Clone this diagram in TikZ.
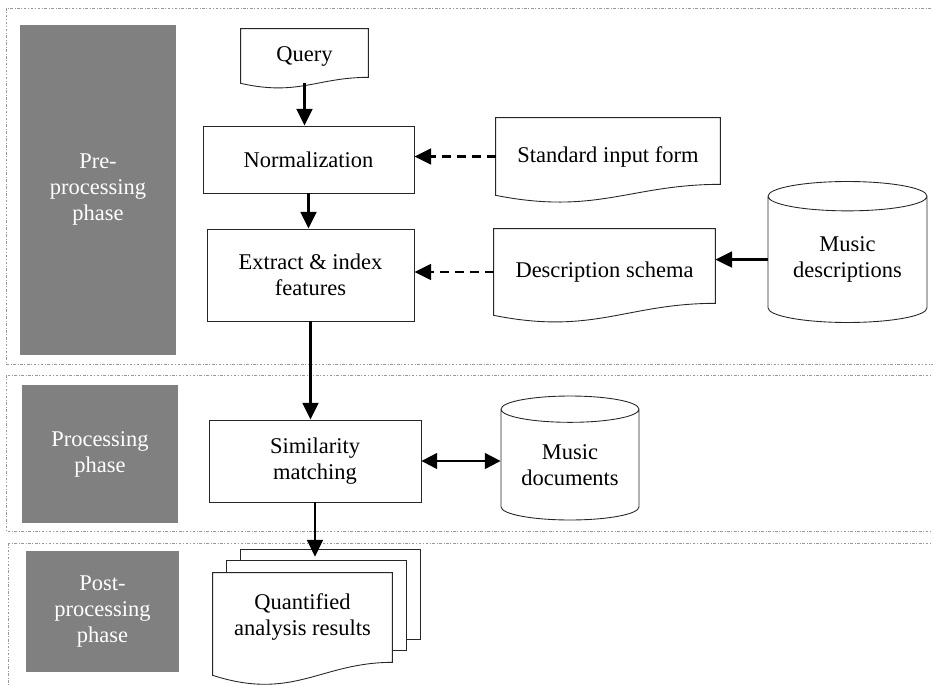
\documentclass[tikz,border=0pt]{standalone}
\usepackage{fontspec}
\setmainfont{Liberation Serif}
\usetikzlibrary{shapes.geometric, arrows.meta, positioning, calc, backgrounds}

% outline of a document sheet with a wavy bottom
\newcommand{\docoutline}[4]{%
  \draw[docline] ($(#1.south west)+(0,#2)$) -- (#1.north west) -- (#1.north east)
    -- ($(#1.south east)+(0,-#3)$)
    .. controls ($(#1.south west)!0.6!(#1.south east)+(0,-#3)$)
       and ($(#1.south west)!0.45!(#1.south east)+(0,#2+#4)$)
    .. ($(#1.south west)+(0,#2)$) -- cycle;}

\begin{document}
\begin{tikzpicture}[
  x=0.02cm, y=-0.02cm,
  every node/.style={font=\fontsize{12.8}{14.8}\selectfont, align=center, inner sep=0pt},
  panel/.style={draw=gray!80, line width=0.5pt, dash pattern=on 1.5pt off 1pt on 0.4pt off 1pt},
  phase/.style={rectangle, fill=black!50, text=white},
  box/.style={rectangle, draw=black!85, line width=0.5pt},
  doc/.style={rectangle},
  docline/.style={draw=black!85, line width=0.5pt, fill=white},
  store/.style={cylinder, shape border rotate=90, aspect=0.27, anchor=shape center, draw=black!85, line width=0.5pt},
  arr/.style={-{Triangle[width=9pt,length=9.5pt]}, line width=1.2pt},
  darr/.style={arr, dash pattern=on 5pt off 3.5pt},
  dblarr/.style={{Triangle[width=9pt,length=9pt]}-{Triangle[width=9pt,length=9pt]}, line width=1.2pt}
]
  \useasboundingbox (0,0) rectangle (933,686);

  % phase panels
  \draw[panel] (6,8) rectangle (945,364);
  \draw[panel] (6,375) rectangle (945,531);
  \draw[panel] (8,543) rectangle (945,700);

  \node[phase, minimum width=3.12cm, minimum height=6.6cm] (prephase) at (98,190) {Pre-\\processing\\phase};
  \node[phase, minimum width=3.12cm, minimum height=2.76cm] (procphase) at (100,454) {Processing\\phase};
  \node[phase, minimum width=3.06cm, minimum height=2.42cm] (postphase) at (102.5,611.5) {Post-\\processing\\phase};

  % main flow
  \node[doc, minimum width=2.54cm, minimum height=1.08cm] (query) at (304.5,56) {Query};
  \node[box, minimum width=4.22cm, minimum height=1.34cm] (norm) at (308.5,159.5) {Normalization};
  \node[box, minimum width=4.14cm, minimum height=1.84cm] (extract) at (310.5,275) {Extract \& index\\features};
  \node[box, minimum width=4.24cm, minimum height=1.64cm] (simil) at (315,461) {Similarity\\matching};
  \node[doc, minimum width=3.58cm, minimum height=1.78cm] (quant) at (302.5,617.5) {Quantified\\analysis results};

  % side inputs
  \node[doc, minimum width=4.48cm, minimum height=1.54cm] (stdform) at (608,156.5) {Standard input form};
  \node[doc, minimum width=4.42cm, minimum height=1.72cm] (descschema) at (604.5,272) {Description schema};
  \node[store, minimum width=3.18cm, minimum height=2.82cm] (musicdesc) at (847.5,252) {Music\\descriptions};
  \node[store, minimum width=2.76cm, minimum height=2.48cm] (musicdocs) at (570,458) {Music\\documents};

  \begin{scope}[on background layer]
    \docoutline{query}{0}{6}{13}
    \docoutline{stdform}{0}{11}{20}
    \docoutline{descschema}{0}{12}{20}
    \draw[docline] ([shift={(28,-23)}]quant.south west) rectangle ([shift={(28,-23)}]quant.north east);
    \draw[docline] ([shift={(14,-12)}]quant.south west) rectangle ([shift={(14,-12)}]quant.north east);
    \docoutline{quant}{13}{0}{26}
  \end{scope}

  \draw[arr] (query.south) -- (query.south |- norm.north);
  \draw[arr] (norm.south) -- (norm.south |- extract.north);
  \draw[arr] (extract.south) -- (extract.south |- simil.north);
  \draw[arr] (simil.south) -- ($(simil.south |- quant.north)+(0,-16)$);
  \draw[darr] (stdform.west) -- (stdform.west -| norm.east);
  \draw[darr] (descschema.west) -- (descschema.west -| extract.east);
  \draw[arr] (musicdesc.west) -- (musicdesc.west -| descschema.east);
  \draw[dblarr] (simil.east) -- (simil.east -| musicdocs.west);
\end{tikzpicture}
\end{document}
